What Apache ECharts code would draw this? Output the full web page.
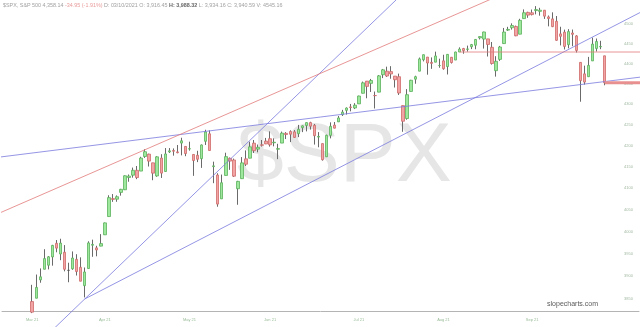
<!DOCTYPE html>
<html><head><meta charset="utf-8">
<script src="https://cdn.jsdelivr.net/npm/echarts@6/dist/echarts.min.js"></script>
<style>html,body{margin:0;padding:0;background:#fff}#c{width:640px;height:327px}</style>
</head><body><div id="c"></div>
<script>
// ---- data (S&P 500 daily, Mar–Sep 2021) ----
const dates = [
'2021-03-08','2021-03-09','2021-03-10','2021-03-11','2021-03-12','2021-03-15','2021-03-16','2021-03-17','2021-03-18','2021-03-19','2021-03-22','2021-03-23','2021-03-24','2021-03-25','2021-03-26','2021-03-29','2021-03-30','2021-03-31',
'2021-04-01','2021-04-05','2021-04-06','2021-04-07','2021-04-08','2021-04-09','2021-04-12','2021-04-13','2021-04-14','2021-04-15','2021-04-16','2021-04-19','2021-04-20','2021-04-21','2021-04-22','2021-04-23','2021-04-26','2021-04-27','2021-04-28','2021-04-29','2021-04-30',
'2021-05-03','2021-05-04','2021-05-05','2021-05-06','2021-05-07','2021-05-10','2021-05-11','2021-05-12','2021-05-13','2021-05-14','2021-05-17','2021-05-18','2021-05-19','2021-05-20','2021-05-21','2021-05-24','2021-05-25','2021-05-26','2021-05-27','2021-05-28',
'2021-06-01','2021-06-02','2021-06-03','2021-06-04','2021-06-07','2021-06-08','2021-06-09','2021-06-10','2021-06-11','2021-06-14','2021-06-15','2021-06-16','2021-06-17','2021-06-18','2021-06-21','2021-06-22','2021-06-23','2021-06-24','2021-06-25','2021-06-28','2021-06-29','2021-06-30',
'2021-07-01','2021-07-02','2021-07-06','2021-07-07','2021-07-08','2021-07-09','2021-07-12','2021-07-13','2021-07-14','2021-07-15','2021-07-16','2021-07-19','2021-07-20','2021-07-21','2021-07-22','2021-07-23','2021-07-26','2021-07-27','2021-07-28','2021-07-29','2021-07-30',
'2021-08-02','2021-08-03','2021-08-04','2021-08-05','2021-08-06','2021-08-09','2021-08-10','2021-08-11','2021-08-12','2021-08-13','2021-08-16','2021-08-17','2021-08-18','2021-08-19','2021-08-20','2021-08-23','2021-08-24','2021-08-25','2021-08-26','2021-08-27','2021-08-30','2021-08-31',
'2021-09-01','2021-09-02','2021-09-03','2021-09-07','2021-09-08','2021-09-09','2021-09-10','2021-09-13','2021-09-14','2021-09-15','2021-09-16','2021-09-17','2021-09-20','2021-09-21','2021-09-22','2021-09-23','2021-09-24','2021-09-27','2021-09-28'
];
const opens = [
3844.4,3851.7,3892.0,3915.5,3924.5,3943.0,3973.6,3949.6,3953.5,3913.1,3916.5,3937.6,3919.9,3879.3,3917.1,3969.3,3963.3,3967.3,
3992.8,4034.4,4075.6,4074.3,4090.0,4096.1,4124.7,4130.1,4141.6,4139.8,4174.1,4179.8,4159.2,4128.4,4170.5,4138.8,4185.0,4188.3,4185.1,4206.1,4198.1,
4192.0,4179.0,4177.1,4169.1,4210.3,4228.3,4150.3,4130.6,4075.0,4129.6,4169.9,4165.9,4098.5,4122.0,4168.6,4170.2,4205.9,4191.6,4201.9,4210.8,
4216.5,4206.8,4191.4,4206.1,4229.3,4233.8,4233.0,4228.6,4242.9,4248.3,4255.3,4248.9,4220.4,4204.8,4173.4,4224.6,4249.3,4257.0,4274.5,4284.9,4293.2,4290.7,
4300.7,4326.6,4356.5,4351.0,4321.1,4329.4,4372.4,4381.1,4380.1,4369.0,4367.4,4296.4,4265.1,4331.1,4361.3,4381.2,4409.6,4416.4,4403.0,4403.6,4395.1,
4406.9,4392.7,4416.0,4408.9,4429.1,4437.8,4435.8,4442.2,4446.1,4464.8,4461.7,4462.1,4440.9,4382.4,4410.6,4450.3,4484.4,4490.5,4493.8,4474.1,4513.8,4529.8,
4528.8,4534.5,4532.4,4535.4,4518.1,4513.0,4506.9,4474.8,4479.3,4447.5,4477.1,4469.7,4403.0,4374.5,4367.4,4406.8,4438.0,4442.1,4419.5
];
const closes = [
3821.4,3875.4,3898.8,3939.3,3943.3,3968.9,3962.7,3974.1,3915.5,3913.1,3940.6,3910.5,3889.1,3909.5,3974.5,3971.1,3958.6,3972.9,
4019.9,4077.9,4073.9,4080.0,4097.2,4128.8,4128.0,4141.6,4124.7,4170.4,4185.5,4163.3,4134.9,4173.4,4135.0,4180.2,4187.6,4186.7,4183.2,4211.5,4181.2,
4192.7,4164.7,4167.6,4201.6,4232.6,4188.4,4152.1,4063.0,4112.5,4173.9,4163.3,4127.8,4115.7,4159.1,4155.9,4197.1,4188.1,4196.0,4200.9,4204.1,
4202.0,4208.1,4192.9,4229.9,4226.5,4227.3,4219.6,4239.2,4247.4,4255.2,4246.6,4223.7,4221.9,4166.5,4224.8,4246.4,4241.8,4266.5,4280.7,4290.6,4291.8,4297.5,
4319.9,4352.3,4343.5,4358.1,4320.8,4369.6,4384.6,4369.2,4374.3,4360.0,4327.2,4258.5,4323.1,4358.7,4367.5,4411.8,4422.3,4401.5,4400.6,4419.2,4395.3,
4387.2,4423.2,4402.7,4429.1,4436.5,4432.4,4436.8,4447.7,4460.8,4468.0,4479.7,4448.1,4400.3,4405.8,4441.7,4479.5,4486.2,4496.2,4470.0,4509.4,4528.8,4522.7,
4524.1,4537.0,4535.4,4520.0,4514.1,4493.3,4458.6,4468.7,4443.1,4480.7,4473.8,4433.0,4357.7,4354.2,4395.6,4449.0,4455.5,4443.1,4352.6
];
const lows = [
3819.3,3851.7,3885.7,3915.5,3915.2,3923.5,3953.4,3935.7,3910.9,3886.8,3914.2,3901.6,3889.1,3853.5,3917.1,3943.3,3944.4,3967.0,
3992.8,4034.4,4068.1,4068.3,4082.5,4095.5,4114.8,4124.4,4120.9,4139.8,4170.8,4150.5,4118.4,4126.4,4123.7,4138.8,4182.4,4176.2,4181.8,4176.8,4174.9,
4188.0,4128.6,4160.9,4147.3,4201.6,4188.1,4111.5,4056.9,4075.0,4129.6,4142.7,4126.0,4061.4,4122.0,4151.7,4170.2,4182.5,4184.1,4197.8,4203.6,
4197.6,4198.3,4167.9,4206.1,4215.7,4208.4,4218.7,4220.3,4232.3,4234.1,4238.4,4202.5,4196.1,4164.4,4173.4,4217.3,4241.4,4257.0,4271.2,4274.7,4282.5,4288.0,
4300.7,4326.6,4314.4,4329.8,4289.4,4329.4,4364.0,4366.9,4362.4,4340.7,4322.5,4233.1,4262.1,4331.1,4350.1,4381.2,4405.5,4372.5,4387.0,4403.6,4389.7,
4384.8,4373.0,4400.2,4408.9,4429.1,4424.7,4430.0,4436.4,4436.0,4460.8,4437.7,4417.8,4397.6,4367.7,4406.8,4450.3,4482.3,4485.7,4469.0,4474.1,4513.8,4515.8,
4522.0,4524.7,4521.3,4513.0,4494.0,4492.1,4457.7,4445.7,4435.5,4438.4,4443.8,4427.8,4305.9,4348.0,4367.4,4406.8,4430.3,4436.2,4346.3
];
const highs = [
3881.1,3903.8,3917.4,3960.3,3945.0,3970.1,3981.0,3983.9,3969.6,3930.1,3955.3,3949.1,3942.1,3919.5,3978.2,3981.8,3968.0,3994.4,
4020.6,4083.4,4086.2,4083.1,4098.2,4129.5,4131.8,4148.0,4151.7,4173.5,4191.3,4180.8,4159.2,4175.0,4179.6,4194.2,4194.2,4193.4,4201.5,4218.8,4198.1,
4209.4,4179.0,4187.7,4202.7,4238.0,4236.4,4162.0,4134.7,4131.6,4183.1,4171.9,4169.2,4116.9,4172.8,4188.7,4209.5,4213.4,4202.6,4213.4,4218.4,
4234.1,4217.4,4204.4,4233.5,4232.3,4236.7,4237.1,4249.7,4248.4,4255.6,4257.2,4251.9,4232.3,4204.8,4226.2,4255.8,4256.6,4271.3,4286.1,4292.1,4300.5,4302.4,
4320.7,4355.4,4356.5,4361.9,4330.9,4371.6,4386.7,4392.4,4393.7,4369.0,4375.1,4296.4,4336.8,4359.7,4369.9,4415.2,4422.7,4416.4,4415.5,4430.0,4412.3,
4422.2,4423.8,4416.2,4429.8,4440.8,4439.4,4445.2,4449.4,4461.8,4468.4,4480.3,4462.1,4454.3,4418.6,4444.4,4489.9,4492.8,4501.7,4495.9,4513.3,4537.4,4531.4,
4537.1,4545.9,4541.5,4535.4,4521.8,4529.9,4520.5,4493.0,4485.7,4486.9,4485.9,4471.5,4403.0,4394.9,4416.8,4465.4,4463.1,4457.3,4419.5
];
// right-axis price labels
const yTickValues = [3850,3900,3950,4000,4050,4100,4150,4200,4250,4300,4350,4400,4450,4500];
const monthNames = ['Jan','Feb','Mar','Apr','May','Jun','Jul','Aug','Sep','Oct','Nov','Dec'];
// trendlines: [trading-day index from first candle, price]
const blueSteep   = [[5.2, 3782.8], [90.9, 4569.5]];
const blueShallow = [[12.8, 3850.0], [150.5, 4530.7]];
const blueFlat    = [[-8.0, 4172.9], [150.5, 4366.7]];
const redDiagonal = [[-8.0, 4042.9], [114.6, 4569.5]];
const redLevel    = [[106, 4429.1], [150.5, 4429.1]];
const lastPrice   = [[142, 4352.6], [150.5, 4352.6]];

// ---- chart ----
const PAD_L = 7, PAD_R = 8;
const Y_MIN = 3823.9, Y_MAX = 4561.7;
const cats = [];
for (let i = 0; i < PAD_L; i++) cats.push('padL' + i);
dates.forEach(d => cats.push(d));
for (let i = 0; i < PAD_R; i++) cats.push('padR' + i);
const empty = ['-','-','-','-'];
const full = [], bodies = [];
for (let i = 0; i < PAD_L; i++) { full.push(empty); bodies.push(empty); }
dates.forEach((d, j) => {
  full.push([opens[j], closes[j], lows[j], highs[j]]);
  bodies.push([opens[j], closes[j], Math.min(opens[j], closes[j]), Math.max(opens[j], closes[j])]);
});
for (let i = 0; i < PAD_R; i++) { full.push(empty); bodies.push(empty); }

function trend(pts, color, width) {
  return {
    type: 'line', data: pts.map(p => [p[0] + PAD_L, p[1]]),
    symbol: 'none', clip: false, silent: true, z: 5,
    lineStyle: { color: color, width: width }, animation: false
  };
}
const FONT = 'Liberation Sans';
const chart = echarts.init(document.getElementById('c'), null, { renderer: 'canvas' });
chart.setOption({
  animation: false,
  backgroundColor: '#ffffff',
  grid: { left: 2, right: 0, top: 0, bottom: 16 },
  xAxis: {
    type: 'category', data: cats, boundaryGap: true,
    axisLine: { show: true, lineStyle: { color: '#b4b4b4', width: 1 } },
    axisTick: { show: false }, splitLine: { show: false },
    axisLabel: {
      interval: 0, fontSize: 4, color: '#98bc98', margin: 7, fontFamily: FONT,
      formatter: function (v, idx) {
        const j = idx - PAD_L;
        if (j < 0 || j >= dates.length) return '';
        const m = dates[j].slice(5, 7);
        if (j === 0 || m !== dates[j - 1].slice(5, 7)) return monthNames[+m - 1] + ' ' + dates[j].slice(2, 4);
        return '';
      }
    }
  },
  yAxis: {
    type: 'log', logBase: 10, position: 'right', min: Y_MIN, max: Y_MAX,
    axisLine: { show: false }, axisTick: { show: false }, splitLine: { show: false },
    axisLabel: {
      inside: true, customValues: yTickValues, fontSize: 4, color: '#a0b8a0', margin: 6, fontFamily: FONT,
      formatter: v => String(Math.round(v))
    }
  },
  graphic: [
    { type: 'text', left: 237, top: 116, z: 0, silent: true,
      style: { text: '$SPX', fontSize: 84, fontFamily: FONT, fill: '#e6e6e6' } },
    { type: 'text', left: 3, top: 3, z: 10, silent: true,
      style: {
        text: '{g|$SPX, S&P 500 4,358.14 }{r|-34.95 (-1.91%)}{g| D: 03/10/2021 O: 3,916.45 }{b|H: 3,988.32}{g| L: 3,934.16 C: 3,940.59 V: 4545.16}',
        rich: {
          g: { fontSize: 5.4, fill: '#a0a0a0', fontFamily: FONT },
          r: { fontSize: 5.4, fill: '#e89a9a', fontFamily: FONT },
          b: { fontSize: 5.4, fill: '#666666', fontWeight: 'bold', fontFamily: FONT }
        }
      } },
    { type: 'text', right: 42, top: 301, z: 10, silent: true,
      style: { text: 'slopecharts.com', fontSize: 7, fill: '#5a5a5a', fontFamily: FONT } }
  ],
  series: [
    { type: 'candlestick', name: 'wick', data: full, barWidth: 1, silent: true, z: 2,
      itemStyle: { color: '#6a6a6a', color0: '#6a6a6a', borderColor: '#6a6a6a', borderColor0: '#6a6a6a', borderColorDoji: '#6a6a6a', borderWidth: 1 } },
    { type: 'candlestick', name: 'body', data: bodies, barWidth: 3, silent: true, z: 3,
      itemStyle: { color: '#9ee89e', color0: '#f2a4a4', borderColor: '#5cb15c', borderColor0: '#cf6a6a', borderColorDoji: '#555', borderWidth: 0.8 } },
    trend(blueSteep, '#7a7ade', 0.8),
    trend(blueShallow, '#7a7ade', 0.8),
    trend(blueFlat, '#7a7ade', 0.8),
    trend(redDiagonal, '#e27a7a', 0.8),
    trend(redLevel, '#e27a7a', 0.8),
    trend(lastPrice, '#e89090', 3)
  ]
});
</script></body></html>
